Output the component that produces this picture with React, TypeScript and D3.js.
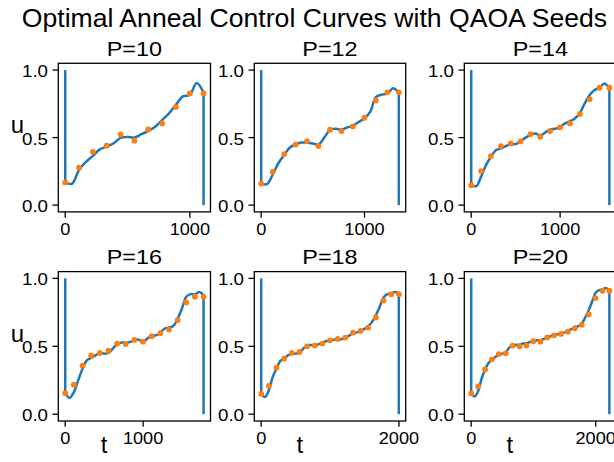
import React from "react";
import * as d3 from "d3";

// ---------- data ----------
const P_VALUES = [10, 12, 14, 16, 18, 20];
const T_FINAL = [1110, 1332, 1554, 1776, 1998, 2220];
const X_TICKS = [[0, 1000], [0, 1000], [0, 1000], [0, 1000], [0, 2000], [0, 2000]];
const Y_TICKS = [0, 0.5, 1.0];
const Y_TICK_LABELS = ["0.0", "0.5", "1.0"];
const U_START = 1.0;
const U_END = 0.0;

// QAOA seed values (orange dots), one per step t = k*T/P
const SEEDS_P10 = [0.168, 0.277, 0.395, 0.44, 0.523, 0.477, 0.56, 0.605, 0.726, 0.827, 0.827];
const SEEDS_P12 = [0.16, 0.247, 0.378, 0.449, 0.474, 0.437, 0.558, 0.548, 0.583, 0.647, 0.775, 0.835, 0.835];
const SEEDS_P14 = [0.148, 0.252, 0.363, 0.437, 0.457, 0.472, 0.526, 0.506, 0.548, 0.575, 0.605, 0.674, 0.783, 0.869, 0.869];
const SEEDS_P16 = [0.155, 0.217, 0.357, 0.431, 0.451, 0.468, 0.52, 0.517, 0.547, 0.534, 0.574, 0.596, 0.623, 0.692, 0.823, 0.865, 0.865];
const SEEDS_P18 = [0.15, 0.209, 0.342, 0.409, 0.451, 0.458, 0.5, 0.505, 0.52, 0.544, 0.554, 0.564, 0.601, 0.613, 0.638, 0.712, 0.837, 0.884, 0.884];
const SEEDS_P20 = [0.153, 0.204, 0.33, 0.404, 0.443, 0.448, 0.505, 0.5, 0.505, 0.537, 0.534, 0.564, 0.581, 0.591, 0.608, 0.633, 0.658, 0.734, 0.855, 0.909, 0.909];

// optimal control curves (blue), sampled at half steps t = j*T/(2P)
const CURVE_P10 = [0.165, 0.16, 0.262, 0.32, 0.365, 0.413, 0.433, 0.458, 0.498, 0.505, 0.5, 0.525, 0.548, 0.58, 0.63, 0.68, 0.742, 0.805, 0.815, 0.905, 0.835];
const CURVE_P12 = [0.16, 0.155, 0.225, 0.31, 0.37, 0.427, 0.449, 0.464, 0.462, 0.457, 0.449, 0.5, 0.556, 0.565, 0.56, 0.575, 0.588, 0.615, 0.642, 0.69, 0.8, 0.818, 0.825, 0.866, 0.83];
const CURVE_P14 = [0.15, 0.14, 0.21, 0.296, 0.358, 0.407, 0.42, 0.437, 0.449, 0.452, 0.472, 0.5, 0.519, 0.531, 0.516, 0.538, 0.56, 0.565, 0.578, 0.605, 0.622, 0.642, 0.68, 0.753, 0.815, 0.852, 0.87, 0.9, 0.864];
const CURVE_P16 = [0.155, 0.12, 0.163, 0.249, 0.335, 0.397, 0.414, 0.433, 0.451, 0.446, 0.451, 0.483, 0.515, 0.527, 0.527, 0.532, 0.544, 0.549, 0.532, 0.557, 0.581, 0.581, 0.601, 0.631, 0.638, 0.65, 0.704, 0.778, 0.865, 0.884, 0.882, 0.899, 0.877];
const CURVE_P18 = [0.15, 0.126, 0.175, 0.273, 0.335, 0.392, 0.409, 0.433, 0.446, 0.446, 0.451, 0.483, 0.507, 0.51, 0.505, 0.515, 0.527, 0.537, 0.544, 0.549, 0.552, 0.552, 0.562, 0.579, 0.594, 0.603, 0.613, 0.628, 0.648, 0.68, 0.729, 0.791, 0.86, 0.884, 0.889, 0.899, 0.889];
const CURVE_P20 = [0.153, 0.131, 0.17, 0.261, 0.328, 0.377, 0.401, 0.421, 0.438, 0.446, 0.456, 0.49, 0.507, 0.51, 0.512, 0.52, 0.522, 0.532, 0.539, 0.544, 0.544, 0.554, 0.564, 0.574, 0.581, 0.589, 0.594, 0.603, 0.613, 0.626, 0.638, 0.648, 0.667, 0.712, 0.766, 0.828, 0.894, 0.913, 0.918, 0.93, 0.909];

const SEEDS = [SEEDS_P10, SEEDS_P12, SEEDS_P14, SEEDS_P16, SEEDS_P18, SEEDS_P20];
const CURVES = [CURVE_P10, CURVE_P12, CURVE_P14, CURVE_P16, CURVE_P18, CURVE_P20];

// ---------- layout ----------
const W = 614;
const H = 462;
const COL_LEFT = [58.3, 254.3, 464.3];
const COL_WIDTH = [152.2, 151.4, 152];
const ROW_TOP = [63.3, 271.6];
const ROW_HEIGHT = [148.6, 149.4];
const FONT = "'Liberation Sans', Arial, Helvetica, sans-serif";
const BLUE = "#1f77b4";
const ORANGE = "#ff7f0e";

function SText({
  x,
  y,
  sx,
  size,
  anchor,
  children,
}: {
  x: number;
  y: number;
  sx: number;
  size: number;
  anchor: string;
  children: React.ReactNode;
}) {
  return (
    <text
      transform={`translate(${x},${y}) scale(${sx},1)`}
      x={0}
      y={0}
      textAnchor={anchor}
      fontSize={size}
      fontFamily={FONT}
      fill="#000"
    >
      {children}
    </text>
  );
}

function Panel({ i }: { i: number }) {
  const col = i % 3;
  const row = Math.floor(i / 3);
  const left = COL_LEFT[col];
  const right = left + COL_WIDTH[col];
  const top = ROW_TOP[row];
  const bottom = top + ROW_HEIGHT[row];
  const T = T_FINAL[i];
  const P = P_VALUES[i];
  const x = d3.scaleLinear().domain([-0.05 * T, 1.05 * T]).range([left, right]);
  const y = d3.scaleLinear().domain([-0.05, 1.05]).range([bottom, top]);

  const curve = CURVES[i];
  const half = T / (2 * P);
  const curvePts: [number, number][] = curve.map((v, j) => [j * half, v]);
  const seedPts: [number, number][] = SEEDS[i].map((v, k) => [(k * T) / P, v]);

  const smooth = d3
    .line<[number, number]>()
    .x((d) => x(d[0]))
    .y((d) => y(d[1]))
    .curve(d3.curveCatmullRom.alpha(0.5));
  const straight = d3
    .line<[number, number]>()
    .x((d) => x(d[0]))
    .y((d) => y(d[1]));

  const startSeg: [number, number][] = [[0, U_START], [0, curve[0]]];
  const endSeg: [number, number][] = [[T, curve[curve.length - 1]], [T, U_END]];
  const tickLen = 5.8;

  return (
    <g>
      <SText x={(left + right) / 2} y={top - 7.6} sx={1.17} size={20} anchor="middle">
        {"P=" + P}
      </SText>
      <path d={straight(startSeg) || ""} stroke={BLUE} strokeWidth={2.5} fill="none" />
      <path d={smooth(curvePts) || ""} stroke={BLUE} strokeWidth={2.5} fill="none" strokeLinejoin="round" />
      <path d={straight(endSeg) || ""} stroke={BLUE} strokeWidth={2.5} fill="none" />
      {seedPts.map((d, k) => (
        <circle key={k} cx={x(d[0])} cy={y(d[1])} r={2.9} fill={ORANGE} />
      ))}
      <rect
        x={left}
        y={top}
        width={right - left}
        height={bottom - top}
        fill="none"
        stroke="#000"
        strokeWidth={1.3}
      />
      {Y_TICKS.map((v, k) => (
        <g key={"y" + k}>
          <line x1={left - tickLen} x2={left} y1={y(v)} y2={y(v)} stroke="#000" strokeWidth={1.3} />
          <SText x={left - tickLen - 4.5} y={y(v) + 7} sx={1.17} size={16} anchor="end">
            {Y_TICK_LABELS[k]}
          </SText>
        </g>
      ))}
      {X_TICKS[i].map((v, k) => (
        <g key={"x" + k}>
          <line x1={x(v)} x2={x(v)} y1={bottom} y2={bottom + tickLen} stroke="#000" strokeWidth={1.3} />
          <SText x={x(v)} y={bottom + 23} sx={1.1} size={16.5} anchor="middle">
            {String(v)}
          </SText>
        </g>
      ))}
      {col === 0 && (
        <SText x={17.5} y={top + 70} sx={1} size={24} anchor="middle">
          u
        </SText>
      )}
      {row === 1 && (
        <SText x={left + 0.3 * (right - left)} y={bottom + 32} sx={1} size={24} anchor="middle">
          t
        </SText>
      )}
    </g>
  );
}

export default function App() {
  return (
    <svg
      width={W}
      height={H}
      style={{ position: "absolute", left: 0, top: 0, background: "#fff" }}
    >
      <rect x={0} y={0} width={W} height={H} fill="#fff" />
      <text x={314.5} y={27} textAnchor="middle" fontSize={26.6} fontFamily={FONT} fill="#000">
        Optimal Anneal Control Curves with QAOA Seeds
      </text>
      {P_VALUES.map((_, i) => (
        <Panel key={i} i={i} />
      ))}
    </svg>
  );
}
